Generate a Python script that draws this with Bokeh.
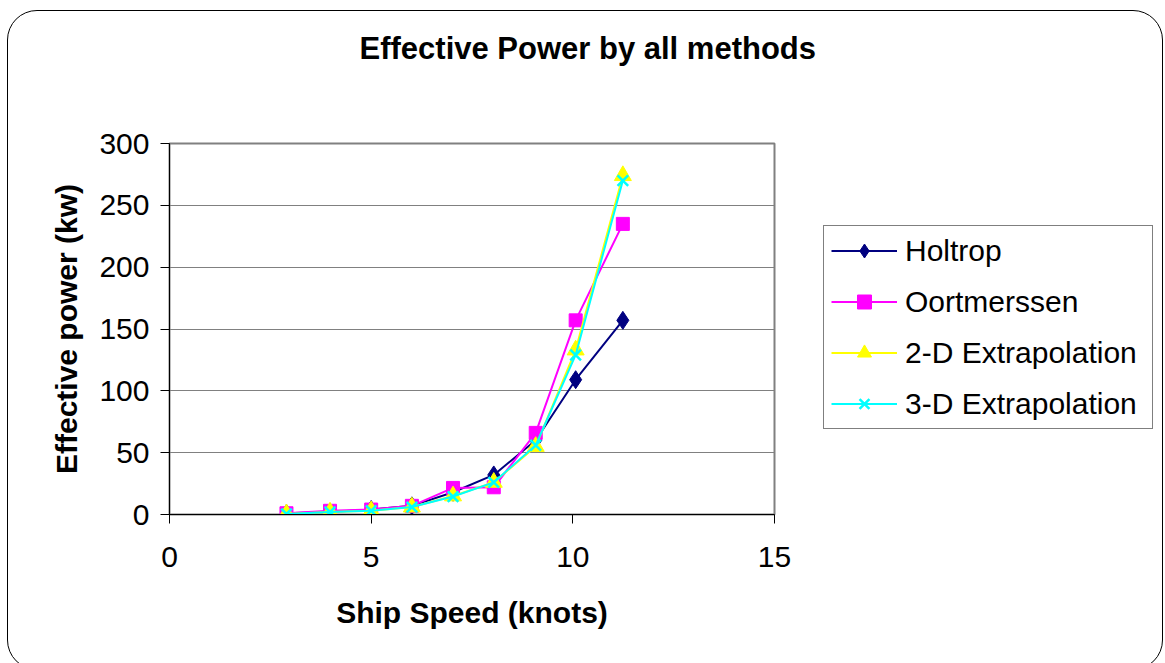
from bokeh.plotting import figure
from bokeh.layouts import row
from bokeh.models import (Legend, LegendItem, Range1d, FixedTicker, Title,
                          InlineStyleSheet)
from bokeh.embed import file_html
from bokeh.resources import INLINE

# ---- data ----
speed = [2.9, 3.98, 5.0, 6.01, 7.03, 8.04, 9.08, 10.07, 11.24]
holtrop = [1, 2, 4, 7, 18, 32, 60, 109, 157]
oortmerssen = [1, 3, 4, 7, 21.5, 22, 66, 157, 235]
extrap_2d = [0.5, 2, 3, 6, 15, 26, 55, 133, 274]
extrap_3d = [0.5, 2, 3, 6, 14.5, 26, 56, 129, 270]
series_names = ["Holtrop", "Oortmerssen", "2-D Extrapolation", "3-D Extrapolation"]
x_ticks = [0, 5, 10, 15]
y_ticks = [0, 50, 100, 150, 200, 250, 300]

FONT = "Liberation Sans"
FS = "30px"

W, H = 1165, 663
FL, FR, FT, FB = 169, 774, 143, 514
QX = 790  # left edge of the overlaid legend figure

p = figure(width=W, height=H, output_backend="svg", toolbar_location=None,
           x_range=Range1d(0, 15), y_range=Range1d(0, 300),
           min_border_left=FL, min_border_right=W - FR,
           min_border_top=FT, min_border_bottom=H - FB)
p.background_fill_color = "white"
p.border_fill_color = "white"
p.outline_line_color = "#808080"
p.outline_line_width = 2

# axes
for ax in (p.xaxis[0], p.yaxis[0]):
    ax.axis_line_color = "black"
    ax.axis_line_width = 1
    ax.major_tick_line_color = "black"
    ax.major_tick_in = 0
    ax.major_tick_out = 9
    ax.minor_tick_line_color = None
    ax.major_label_text_font = FONT
    ax.major_label_text_font_size = FS
    ax.major_label_text_color = "black"
    ax.axis_label_text_font = FONT
    ax.axis_label_text_font_size = FS
    ax.axis_label_text_font_style = "bold"
    ax.axis_label_text_color = "black"

p.xaxis[0].ticker = FixedTicker(ticks=x_ticks)
p.yaxis[0].ticker = FixedTicker(ticks=y_ticks)
p.xaxis[0].major_label_standoff = 23
p.yaxis[0].major_label_standoff = 11
p.xaxis[0].axis_label = "Ship Speed (knots)"
p.yaxis[0].axis_label = "Effective power (kw)"
p.xaxis[0].axis_label_standoff = 26
p.yaxis[0].axis_label_standoff = 13

p.xgrid.grid_line_color = None
p.ygrid.grid_line_color = "#808080"
p.ygrid.grid_line_width = 1
p.ygrid.ticker = FixedTicker(ticks=y_ticks)

# title: spacer (closest to frame) then the real title
spacer = Title(text=" ", text_font_size="2px", standoff=74, text_color="white")
p.add_layout(spacer, "above")
t = Title(text="Effective Power by all methods", align="left",
          text_font=FONT, text_font_size="31px", text_font_style="bold",
          text_color="black", standoff=0, offset=190)
p.add_layout(t, "above")

styles = [
    dict(color="#000080", marker="diamond", size=18, fill=True, lw=1),
    dict(color="#FF00FF", marker="square", size=13, fill=True, lw=1),
    dict(color="#FFFF00", marker="triangle", size=17, fill=True, lw=1),
    dict(color="#00FFFF", marker="x", size=15, fill=False, lw=2.5),
]
series = [holtrop, oortmerssen, extrap_2d, extrap_3d]

for ys, st in zip(series, styles):
    p.line(speed, ys, line_color=st["color"], line_width=2)
    p.scatter(speed, ys, marker=st["marker"], size=st["size"],
              fill_color=st["color"] if st["fill"] else None,
              line_color=st["color"], line_width=st["lw"])

# ---- legend figure, overlaid on the right part of the chart (transparent) ----
LW = W - QX
q = figure(width=LW, height=H, output_backend="svg", toolbar_location=None,
           x_range=Range1d(100, 101), y_range=Range1d(0, 300),
           x_axis_type=None, y_axis_type=None, min_border=0)
q.outline_line_color = None
q.background_fill_color = None
q.border_fill_color = None
q.xgrid.grid_line_color = None
q.ygrid.grid_line_color = None
q.margin = (0, 0, 0, -LW)

items = []
for name, ys, st in zip(series_names, series, styles):
    # same series, outside this figure's visible x range: only the legend swatches show
    rl = q.line(speed, ys, line_color=st["color"], line_width=2)
    rm = q.scatter(speed, ys, marker=st["marker"], size=st["size"],
                   fill_color=st["color"] if st["fill"] else None,
                   line_color=st["color"], line_width=st["lw"])
    items.append(LegendItem(label=name, renderers=[rl, rm]))

legend = Legend(items=items, location=(823 - QX, FB - 429),
                label_text_font=FONT, label_text_font_size=FS,
                label_text_color="black",
                glyph_width=66, glyph_height=35, label_height=35, label_width=240,
                spacing=16, padding=7, margin=0, label_standoff=8,
                border_line_color="black", border_line_width=1,
                background_fill_color="white", background_fill_alpha=1)
q.add_layout(legend, "center")

layout = row(p, q)
# rounded chart-area border (drawn by CSS around the whole chart)
layout.stylesheets = [InlineStyleSheet(css="""
:host { position: relative; overflow: hidden; }
:host::after {
  content: ''; position: absolute; left: 7px; top: 10px;
  width: 1156px; height: 660px; box-sizing: border-box;
  border: 1.5px solid black; border-radius: 30px;
  pointer-events: none; z-index: 10;
}
""")]

open("out.html", "w").write(file_html(layout, INLINE))
